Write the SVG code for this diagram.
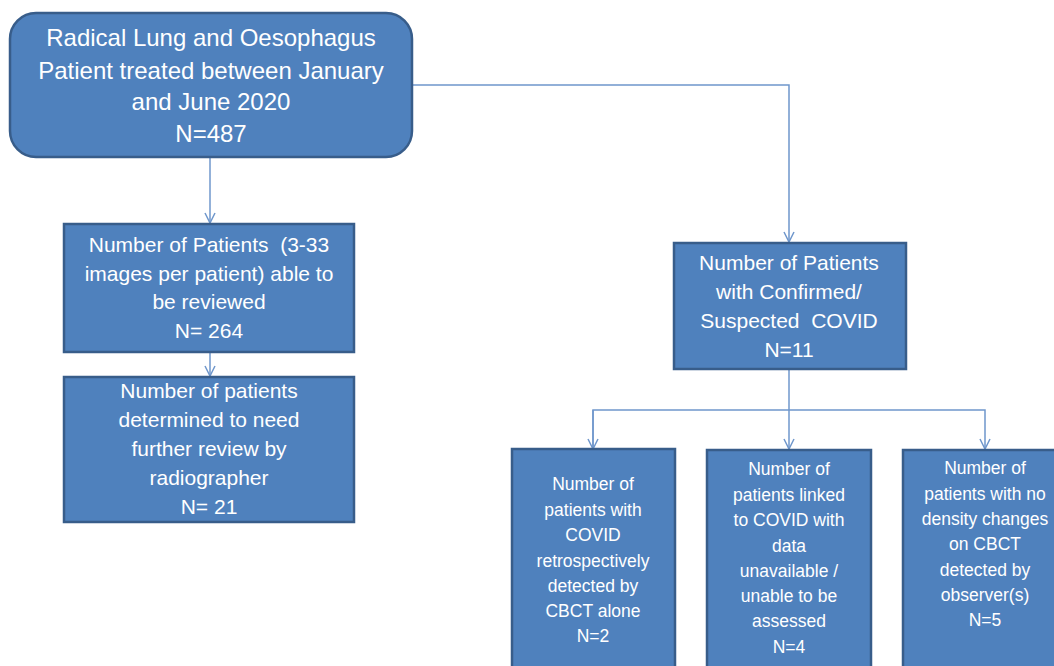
<svg xmlns="http://www.w3.org/2000/svg" width="1054" height="666" viewBox="0 0 1054 666">
<style>
.box{fill:#4F81BD;stroke:#385D8A;stroke-width:2.5}
.t{font-family:"Liberation Sans",Arial,sans-serif;fill:#ffffff;text-anchor:middle;white-space:pre}
.t1{font-size:24px}
.t2{font-size:21px}
.t3{font-size:17.5px}
.c{fill:none;stroke:#6F97CC;stroke-width:1.5}
</style>
<defs>
<marker id="arr" viewBox="0 0 12 12" refX="11" refY="6" markerWidth="12" markerHeight="12" markerUnits="userSpaceOnUse" orient="auto">
<path d="M1,1 L11,6 L1,11" fill="none" stroke="#6F97CC" stroke-width="1.5"/>
</marker>
</defs>
<rect width="1054" height="666" fill="#ffffff"/>
<g id="connectors">
<path class="c" d="M210,157 V223" marker-end="url(#arr)"/>
<path class="c" d="M210,352 V376" marker-end="url(#arr)"/>
<path class="c" d="M412,85 H789 V242" marker-end="url(#arr)"/>
<path class="c" d="M789,369 V449" marker-end="url(#arr)"/>
<path class="c" d="M593,449 V410 H985 V449" marker-end="url(#arr)"/>
<path class="c" d="M593,410 V449" marker-end="url(#arr)"/>
</g>
<g id="n1">
<rect class="box" x="10" y="13" width="402" height="144" rx="26"/>
<text class="t t1"><tspan x="211" y="46">Radical Lung and Oesophagus</tspan><tspan x="211" y="79">Patient treated between January</tspan><tspan x="211" y="110">and June 2020</tspan><tspan x="211" y="142">N=487</tspan></text>
</g>
<g id="n2">
<rect class="box" x="64" y="224" width="290" height="128"/>
<text class="t t2"><tspan x="209" y="252">Number of Patients  (3-33</tspan><tspan x="209" y="281">images per patient) able to</tspan><tspan x="209" y="309">be reviewed</tspan><tspan x="209" y="338">N= 264</tspan></text>
</g>
<g id="n3">
<rect class="box" x="64" y="377" width="290" height="145"/>
<text class="t t2"><tspan x="209" y="398">Number of patients</tspan><tspan x="209" y="427">determined to need</tspan><tspan x="209" y="456">further review by</tspan><tspan x="209" y="485">radiographer</tspan><tspan x="209" y="514">N= 21</tspan></text>
</g>
<g id="n4">
<rect class="box" x="674" y="243" width="232" height="126"/>
<text class="t t2"><tspan x="789" y="270">Number of Patients</tspan><tspan x="789" y="299">with Confirmed/</tspan><tspan x="789" y="328">Suspected  COVID</tspan><tspan x="789" y="357">N=11</tspan></text>
</g>
<g id="n5">
<rect class="box" x="512" y="449" width="163" height="230"/>
<text class="t t3"><tspan x="593" y="490">Number of</tspan><tspan x="593" y="516">patients with</tspan><tspan x="593" y="541">COVID</tspan><tspan x="593" y="567">retrospectively</tspan><tspan x="593" y="592">detected by</tspan><tspan x="593" y="617">CBCT alone</tspan><tspan x="593" y="642">N=2</tspan></text>
</g>
<g id="n6">
<rect class="box" x="707" y="450" width="164" height="230"/>
<text class="t t3"><tspan x="789" y="475">Number of</tspan><tspan x="789" y="501">patients linked</tspan><tspan x="789" y="526">to COVID with</tspan><tspan x="789" y="552">data</tspan><tspan x="789" y="577">unavailable /</tspan><tspan x="789" y="602">unable to be</tspan><tspan x="789" y="627">assessed</tspan><tspan x="789" y="653">N=4</tspan></text>
</g>
<g id="n7">
<rect class="box" x="903" y="450" width="164" height="230"/>
<text class="t t3"><tspan x="985" y="474">Number of</tspan><tspan x="985" y="500">patients with no</tspan><tspan x="985" y="525">density changes</tspan><tspan x="985" y="550">on CBCT</tspan><tspan x="985" y="576">detected by</tspan><tspan x="985" y="601">observer(s)</tspan><tspan x="985" y="626">N=5</tspan></text>
</g>
</svg>
